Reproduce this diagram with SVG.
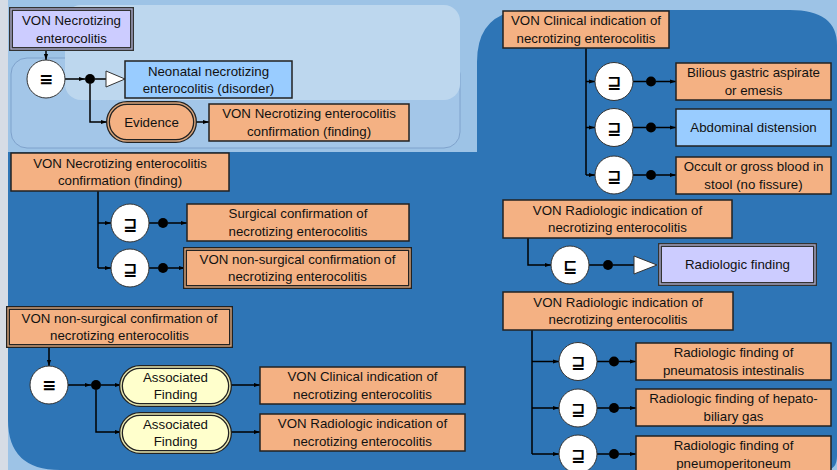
<svg xmlns="http://www.w3.org/2000/svg" width="837" height="470" viewBox="0 0 837 470">
<defs>
<style>
text{font-family:"Liberation Sans",Arial,sans-serif;font-size:13.3px;fill:#111;text-anchor:middle}
.sym{font-family:"DejaVu Sans",sans-serif;font-size:17px;font-weight:bold;fill:#000}
.or{fill:#F4B183;stroke:#222;stroke-width:1.5}
.bl{fill:#99CCFF;stroke:#222;stroke-width:1.5}
.dbo{fill:#F4B183;stroke:#222;stroke-width:4}
.dbl{fill:#CCCCFF;stroke:#333;stroke-width:4}
.dby{fill:#FFFFCC;stroke:#222;stroke-width:4}
.in-o{fill:none;stroke:#D9A57C;stroke-width:1.4}
.in-l{fill:none;stroke:#A8A8C8;stroke-width:1.4}
.in-y{fill:none;stroke:#E6E6B0;stroke-width:1.4}
.cir{fill:#fff;stroke:#333;stroke-width:1}
.dot{fill:#000}
.ln{fill:none;stroke:#000;stroke-width:1.5}
.lna{fill:none;stroke:#000;stroke-width:1.5;marker-end:url(#arr)}
.tri{fill:#fff;stroke:#333;stroke-width:1}
</style>
<marker id="arr" viewBox="0 0 10 10" refX="10" refY="5" markerWidth="6" markerHeight="6" orient="auto" markerUnits="userSpaceOnUse"><path d="M0,1.5 L10,5 L0,8.5 z" fill="#000"/></marker>
</defs>

<!-- background -->
<rect width="837" height="470" fill="#9DC3E6"/>
<rect x="0" y="0" width="8" height="470" fill="#D6DCE5"/>
<path d="M8,152 H477 V62 Q477,10 530,10 H790 Q837,10 837,45 V456 Q837,470 825,470 H60 Q8,470 8,420 Z" fill="#2E75B6"/>
<rect x="11" y="58" width="449" height="90" rx="16" fill="#A3C6E8" stroke="#7FA2CC" stroke-width="1"/>
<rect x="65" y="5" width="395" height="95" rx="16" fill="#BDD7EE"/>

<!-- connectors -->
<g id="connectors">
<path class="lna" d="M46,49 V60"/>
<path class="lna" d="M65,79 H85"/>
<path class="ln" d="M95,79 H106"/>
<path class="lna" d="M90,84 V122 H107"/>
<path class="lna" d="M195,122 H209"/>

<path class="ln" d="M586,48 V175"/>
<path class="lna" d="M586,81.5 H595"/>
<path class="lna" d="M586,127.5 H595"/>
<path class="lna" d="M586,175 H595"/>
<path class="ln" d="M633,81.5 H646"/><path class="lna" d="M656,81.5 H676"/>
<path class="ln" d="M633,127.5 H646"/><path class="lna" d="M656,127.5 H676"/>
<path class="ln" d="M633,175 H646"/><path class="lna" d="M656,175 H676"/>

<path class="ln" d="M98,191 V268"/>
<path class="lna" d="M98,223 H111"/>
<path class="lna" d="M98,268 H111"/>
<path class="ln" d="M149,223 H158"/><path class="lna" d="M168,223 H187"/>
<path class="ln" d="M149,268 H158"/><path class="lna" d="M168,268 H185"/>

<path class="lna" d="M528,238 V265 H551"/>
<path class="ln" d="M589,265 H603"/>
<path class="ln" d="M613,265 H634"/>

<path class="ln" d="M532,330 V454"/>
<path class="lna" d="M532,361.5 H559"/>
<path class="lna" d="M532,408 H559"/>
<path class="lna" d="M532,454 H559"/>
<path class="ln" d="M597,361.5 H609"/><path class="lna" d="M619,361.5 H636"/>
<path class="ln" d="M597,408 H609"/><path class="lna" d="M619,408 H636"/>
<path class="ln" d="M597,454 H609"/><path class="lna" d="M619,454 H636"/>

<path class="lna" d="M49,346 V366"/>
<path class="lna" d="M68,385 H91"/>
<path class="lna" d="M101,385 H121"/>
<path class="lna" d="M96,390 V432 H121"/>
<path class="lna" d="M230,385 H260"/>
<path class="lna" d="M230,432 H260"/>
</g>

<!-- cluster 1 -->
<g id="n-von-nec">
<rect class="dbl" x="11" y="9" width="121" height="40"/><rect class="in-l" x="11" y="9" width="121" height="40"/>
<text x="71.5" y="25">VON Necrotizing</text><text x="71.5" y="42.5">enterocolitis</text>
</g>
<g id="op-eq1"><circle class="cir" cx="46" cy="79" r="19"/><text class="sym" x="46" y="85">≡</text></g>
<g id="dot1"><circle class="dot" cx="90" cy="79" r="5"/></g>
<g id="tri1"><path class="tri" d="M106,71 L125,79 L106,87 Z"/></g>
<g id="n-neonatal">
<rect class="bl" x="125" y="61" width="167" height="37"/>
<text x="208.5" y="75.5">Neonatal necrotizing</text><text x="208.5" y="93">enterocolitis (disorder)</text>
</g>
<g id="r-evidence">
<rect class="dbo" x="108" y="103" width="87" height="38" rx="19"/><rect class="in-o" x="108" y="103" width="87" height="38" rx="19"/>
<text x="151.5" y="126.5">Evidence</text>
</g>
<g id="n-confirm1">
<rect class="or" x="209" y="104" width="200" height="37"/>
<text x="309" y="118">VON Necrotizing enterocolitis</text><text x="309" y="135.5">confirmation (finding)</text>
</g>

<!-- cluster 2 -->
<g id="n-clinical1">
<rect class="or" x="503" y="11" width="166" height="37"/>
<text x="586" y="25">VON Clinical indication of</text><text x="586" y="42.5">necrotizing enterocolitis</text>
</g>
<g id="op-c1"><circle class="cir" cx="614" cy="81.5" r="19"/><text class="sym" x="614" y="88">⊒</text></g>
<g id="op-c2"><circle class="cir" cx="614" cy="127.5" r="19"/><text class="sym" x="614" y="134">⊒</text></g>
<g id="op-c3"><circle class="cir" cx="614" cy="175" r="19"/><text class="sym" x="614" y="181.5">⊒</text></g>
<g id="dots-c"><circle class="dot" cx="651" cy="81.5" r="5"/><circle class="dot" cx="651" cy="127.5" r="5"/><circle class="dot" cx="651" cy="175" r="5"/></g>
<g id="n-bilious">
<rect class="or" x="676" y="63" width="155" height="37"/>
<text x="753.5" y="77">Bilious gastric aspirate</text><text x="753.5" y="94.5">or emesis</text>
</g>
<g id="n-abdominal">
<rect class="bl" x="676" y="109" width="155" height="37"/>
<text x="753.5" y="132">Abdominal distension</text>
</g>
<g id="n-occult">
<rect class="or" x="676" y="157" width="155" height="37"/>
<text x="753.5" y="171">Occult or gross blood in</text><text x="753.5" y="188.5">stool (no fissure)</text>
</g>

<!-- cluster 3 -->
<g id="n-confirm2">
<rect class="or" x="11" y="153" width="218" height="38"/>
<text x="120" y="167.5">VON Necrotizing enterocolitis</text><text x="120" y="185">confirmation (finding)</text>
</g>
<g id="op-s1"><circle class="cir" cx="130" cy="223" r="19"/><text class="sym" x="130" y="229.5">⊒</text></g>
<g id="op-s2"><circle class="cir" cx="130" cy="268" r="19"/><text class="sym" x="130" y="274.5">⊒</text></g>
<g id="dots-s"><circle class="dot" cx="163" cy="223" r="5"/><circle class="dot" cx="163" cy="268" r="5"/></g>
<g id="n-surgical">
<rect class="or" x="187" y="204" width="222" height="37"/>
<text x="298" y="218">Surgical confirmation of</text><text x="298" y="235.5">necrotizing enterocolitis</text>
</g>
<g id="n-nonsurg1">
<rect class="dbo" x="185" y="249" width="225" height="38"/><rect class="in-o" x="185" y="249" width="225" height="38"/>
<text x="297.5" y="263.5">VON non-surgical  confirmation of</text><text x="297.5" y="281">necrotizing enterocolitis</text>
</g>

<!-- cluster 4 -->
<g id="n-radio1">
<rect class="or" x="503" y="200" width="229" height="38"/>
<text x="617.5" y="214.5">VON Radiologic indication of</text><text x="617.5" y="232">necrotizing enterocolitis</text>
</g>
<g id="op-r0"><circle class="cir" cx="570" cy="265" r="19"/><text class="sym" x="570" y="271.5">⊑</text></g>
<g id="dot-r0"><circle class="dot" cx="608" cy="265" r="5"/></g>
<g id="tri2"><path class="tri" d="M634,256 L657,265 L634,274 Z"/></g>
<g id="n-radfinding">
<rect class="dbl" x="660" y="245" width="155" height="39"/><rect class="in-l" x="660" y="245" width="155" height="39"/>
<text x="737.5" y="269">Radiologic finding</text>
</g>

<!-- cluster 5 -->
<g id="n-radio2">
<rect class="or" x="503" y="292" width="230" height="38"/>
<text x="618" y="306.5">VON Radiologic indication of</text><text x="618" y="324">necrotizing enterocolitis</text>
</g>
<g id="op-p1"><circle class="cir" cx="578" cy="361.5" r="19"/><text class="sym" x="578" y="368">⊒</text></g>
<g id="op-p2"><circle class="cir" cx="578" cy="408" r="19"/><text class="sym" x="578" y="414.5">⊒</text></g>
<g id="op-p3"><circle class="cir" cx="578" cy="454" r="19"/><text class="sym" x="578" y="460.5">⊒</text></g>
<g id="dots-p"><circle class="dot" cx="614" cy="361.5" r="5"/><circle class="dot" cx="614" cy="408" r="5"/><circle class="dot" cx="614" cy="454" r="5"/></g>
<g id="n-pneumatosis">
<rect class="or" x="636" y="343" width="195" height="37"/>
<text x="733.5" y="357">Radiologic finding of</text><text x="733.5" y="374.5">pneumatosis intestinalis</text>
</g>
<g id="n-hepato">
<rect class="or" x="636" y="389" width="195" height="37"/>
<text x="733.5" y="403">Radiologic finding of hepato-</text><text x="733.5" y="420.5">biliary gas</text>
</g>
<g id="n-pneumoperi">
<rect class="or" x="636" y="436" width="195" height="40"/>
<text x="733.5" y="450">Radiologic finding of</text><text x="733.5" y="467.5">pneumoperitoneum</text>
</g>

<!-- cluster 6 -->
<g id="n-nonsurg2">
<rect class="dbo" x="8" y="308" width="223" height="38"/><rect class="in-o" x="8" y="308" width="223" height="38"/>
<text x="119.5" y="322.5">VON non-surgical  confirmation of</text><text x="119.5" y="340">necrotizing enterocolitis</text>
</g>
<g id="op-eq2"><circle class="cir" cx="49" cy="385" r="19"/><text class="sym" x="49" y="391">≡</text></g>
<g id="dot2"><circle class="dot" cx="96" cy="385" r="5"/></g>
<g id="r-assoc1">
<rect class="dby" x="121" y="367" width="109" height="38" rx="19"/><rect class="in-y" x="121" y="367" width="109" height="38" rx="19"/>
<text x="175.5" y="381.5">Associated</text><text x="175.5" y="399">Finding</text>
</g>
<g id="r-assoc2">
<rect class="dby" x="121" y="414" width="109" height="38" rx="19"/><rect class="in-y" x="121" y="414" width="109" height="38" rx="19"/>
<text x="175.5" y="428.5">Associated</text><text x="175.5" y="446">Finding</text>
</g>
<g id="n-clinical2">
<rect class="or" x="260" y="367" width="205" height="37"/>
<text x="362.5" y="381">VON Clinical indication of</text><text x="362.5" y="398.5">necrotizing enterocolitis</text>
</g>
<g id="n-radio3">
<rect class="or" x="260" y="414" width="205" height="37"/>
<text x="362.5" y="428">VON Radiologic indication of</text><text x="362.5" y="445.5">necrotizing enterocolitis</text>
</g>
</svg>
